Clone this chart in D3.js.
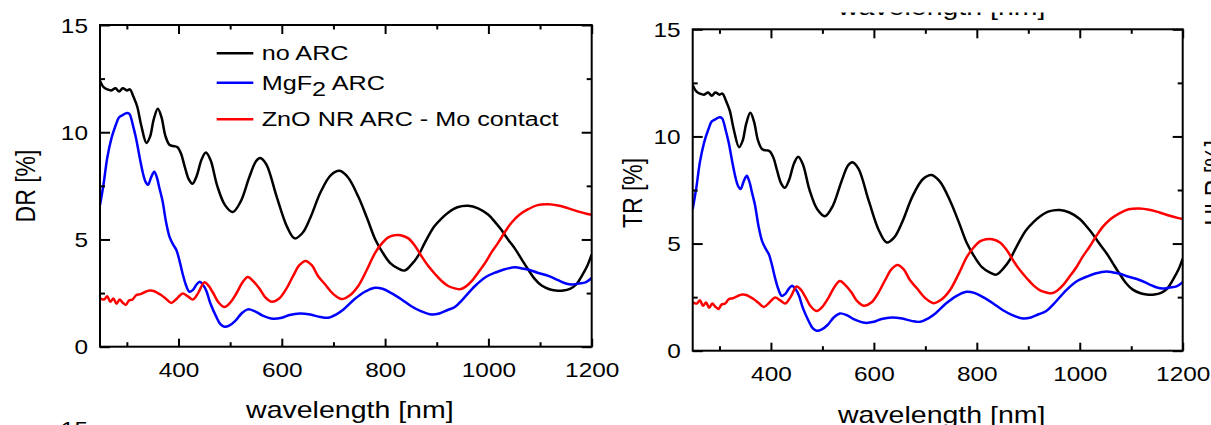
<!DOCTYPE html>
<html>
<head>
<meta charset="utf-8">
<script src="https://cdn.jsdelivr.net/npm/d3@7"></script>
<style>
  body { margin: 0; background: #fff; }
  svg { display: block; }
  text { font-family: "Liberation Sans", Arial, sans-serif; fill: #000; }
</style>
</head>
<body>
<svg id="chart" width="1211" height="425"></svg>
<script>
// Reflectance spectra (wavelength in nm, reflectance in %)
const noArcWl = [248,255,262,270,278,285,292,300,306,312,320,328,338,345,352,360,367,375,383,392,398,405,412,420,427,435,445,453,462,475,490,505,520,537,550,558,570,590,610,625,640,655,675,695,712,728,748,765,781,795,810,825,838,850,863,877,895,910,922,940,961,980,1000,1015,1025,1038,1052,1065,1077,1090,1103,1118,1130,1145,1158,1170,1182,1192,1200];
const noArcR  = [12.4,12.1,12.0,11.95,12.05,11.9,12.05,11.95,12.0,11.7,11.2,10.3,9.5,9.8,10.6,11.1,10.7,9.8,9.4,9.35,9.3,9.0,8.4,7.8,7.6,7.95,8.75,9.05,8.7,7.5,6.6,6.28,6.75,7.9,8.65,8.8,8.5,7.0,5.6,5.05,5.3,6.0,7.2,8.0,8.2,7.9,7.0,6.0,5.0,4.4,3.9,3.65,3.55,3.8,4.2,4.85,5.6,6.0,6.25,6.5,6.57,6.45,6.15,5.75,5.45,5.0,4.55,4.05,3.6,3.15,2.85,2.68,2.62,2.62,2.7,2.9,3.35,3.8,4.3];

const mgf2Wl = [248,255,262,270,278,285,292,300,305,312,318,325,331,336,341,347,353,358,363,369,376,383,390,396,402,408,414,421,428,435,441,447,454,462,473,481,489,498,510,522,534,548,563,583,600,615,635,655,675,690,705,720,740,760,780,795,812,832,850,870,890,905,920,935,950,974,995,1013,1030,1052,1065,1077,1095,1116,1135,1150,1161,1175,1188,1200];
const mgf2R  = [6.6,7.6,8.8,9.7,10.3,10.7,10.8,10.9,10.85,10.3,9.7,8.8,8.1,7.7,7.55,7.9,8.16,7.9,7.4,6.8,5.8,5.1,4.75,4.5,4.0,3.4,2.9,2.56,2.65,2.9,3.03,2.9,2.6,2.0,1.4,1.05,0.93,0.98,1.2,1.55,1.74,1.65,1.45,1.3,1.35,1.48,1.55,1.5,1.38,1.35,1.5,1.75,2.2,2.55,2.75,2.7,2.5,2.2,1.9,1.65,1.5,1.55,1.7,1.85,2.2,2.83,3.25,3.45,3.6,3.7,3.65,3.6,3.45,3.3,3.1,2.95,2.9,2.95,3.0,3.2];

const znoWl = [248,256,262,268,274,280,286,292,298,304,311,318,326,335,344,352,360,367,375,386,397,408,418,428,438,450,458,466,478,489,500,512,524,534,545,557,568,580,595,608,622,634,646,658,670,684,700,716,732,748,765,781,795,806,818,830,845,858,871,884,897,910,922,935,945,956,968,980,994,1006,1019,1032,1045,1060,1077,1095,1116,1135,1155,1175,1190,1200];
const znoR  = [2.25,2.2,2.35,2.1,2.25,2.0,2.2,2.05,1.95,2.15,2.2,2.4,2.45,2.55,2.62,2.6,2.5,2.4,2.25,2.04,2.25,2.48,2.35,2.2,2.5,3.0,2.85,2.55,2.05,1.85,2.05,2.48,3.0,3.25,3.05,2.7,2.3,2.1,2.25,2.67,3.3,3.8,4.0,3.8,3.3,2.9,2.45,2.22,2.4,2.83,3.6,4.39,4.85,5.1,5.2,5.2,5.05,4.7,4.2,3.75,3.38,3.05,2.83,2.72,2.68,2.8,3.07,3.45,3.92,4.4,4.85,5.35,5.79,6.15,6.41,6.6,6.64,6.58,6.45,6.3,6.2,6.15];

const seriesNames  = ["no ARC", "MgF", "ZnO NR ARC - Mo contact"];
const seriesColors = ["#000000", "#0000ff", "#ff0000"];
const xMajorTicks = [400, 600, 800, 1000, 1200];
const xMinorTicks = [300, 500, 700, 900, 1100];
const yMajorTicks = [0, 5, 10, 15];
const yMinorTicks = [2.5, 7.5, 12.5];
const xTitle = "wavelength [nm]";
const panelTitles = ["DR [%]", "TR [%]"];

const series = [
  { wl: noArcWl, r: noArcR, color: seriesColors[0] },
  { wl: mgf2Wl,  r: mgf2R,  color: seriesColors[1] },
  { wl: znoWl,   r: znoR,   color: seriesColors[2] }
];

const svg = d3.select("#chart");
const defs = svg.append("defs");
const TICK_SX = 1.22, TITLE_SX = 1.24, LEGEND_SX = 1.2;

const panels = [
  { left: 100,   right: 591.7,  top: 25,   bottom: 346.7, title: panelTitles[0], titleX: 35,  titleY: 186, xTitleY: 418.3, legend: true },
  { left: 692.7, right: 1182.7, top: 29.3, bottom: 350.7, title: panelTitles[1], titleX: 642, titleY: 193, xTitleY: 422.5, legend: false }
];

function styleAxis(g, width) {
  g.select(".domain").remove();
  g.selectAll(".tick line").attr("stroke", "#000").attr("stroke-width", width);
}

panels.forEach((p, i) => {
  const x = d3.scaleLinear().domain([248, 1200]).range([p.left, p.right]);
  const y = d3.scaleLinear().domain([0, 15]).range([p.bottom, p.top]);
  const g = svg.append("g").attr("class", "panel");

  // clip region for the curves
  const clipId = "clip" + i;
  defs.append("clipPath").attr("id", clipId)
    .append("rect").attr("x", p.left).attr("y", p.top)
    .attr("width", p.right - p.left).attr("height", p.bottom - p.top);

  // curves
  const line = d3.line()
    .x(d => x(d[0])).y(d => y(d[1]))
    .curve(d3.curveCatmullRom.alpha(0.5));
  series.forEach(s => {
    const pts = s.wl.map((w, k) => [w, s.r[k]]);
    g.append("path").datum(pts)
      .attr("clip-path", `url(#${clipId})`)
      .attr("fill", "none").attr("stroke", s.color)
      .attr("stroke-width", 2.5).attr("stroke-linejoin", "round")
      .attr("d", line);
  });

  // bottom axis (major + minor, ticks pointing inward)
  const bx = g.append("g").attr("transform", `translate(0,${p.bottom})`)
    .call(d3.axisBottom(x).tickValues(xMajorTicks).tickSizeInner(-8).tickSizeOuter(0).tickFormat(d3.format("d")));
  styleAxis(bx, 2);
  bx.selectAll(".tick text").attr("y", null).attr("dy", null)
    .attr("font-size", 20).attr("fill", "#000")
    .attr("transform", `translate(0,30.5) scale(${TICK_SX},1)`);
  const bxm = g.append("g").attr("transform", `translate(0,${p.bottom})`)
    .call(d3.axisBottom(x).tickValues(xMinorTicks).tickSizeInner(-4.5).tickSizeOuter(0).tickFormat(""));
  styleAxis(bxm, 2);

  // top axis
  const tx = g.append("g").attr("transform", `translate(0,${p.top})`)
    .call(d3.axisTop(x).tickValues(xMajorTicks).tickSizeInner(-9).tickSizeOuter(0).tickFormat(""));
  styleAxis(tx, 2);
  const txm = g.append("g").attr("transform", `translate(0,${p.top})`)
    .call(d3.axisTop(x).tickValues(xMinorTicks).tickSizeInner(-4.5).tickSizeOuter(0).tickFormat(""));
  styleAxis(txm, 2);

  // left axis
  const ly = g.append("g").attr("transform", `translate(${p.left},0)`)
    .call(d3.axisLeft(y).tickValues(yMajorTicks).tickSizeInner(-10).tickSizeOuter(0).tickFormat(d3.format("d")));
  styleAxis(ly, 2);
  ly.selectAll(".tick text").attr("x", null).attr("dy", null)
    .attr("font-size", 20).attr("fill", "#000")
    .attr("transform", `translate(-12,7) scale(${TICK_SX},1)`);
  const lym = g.append("g").attr("transform", `translate(${p.left},0)`)
    .call(d3.axisLeft(y).tickValues(yMinorTicks).tickSizeInner(-5).tickSizeOuter(0).tickFormat(""));
  styleAxis(lym, 2);

  // right axis
  const ry = g.append("g").attr("transform", `translate(${p.right},0)`)
    .call(d3.axisRight(y).tickValues(yMajorTicks).tickSizeInner(-10).tickSizeOuter(0).tickFormat(""));
  styleAxis(ry, 2);
  const rym = g.append("g").attr("transform", `translate(${p.right},0)`)
    .call(d3.axisRight(y).tickValues(yMinorTicks).tickSizeInner(-5).tickSizeOuter(0).tickFormat(""));
  styleAxis(rym, 2);

  // frame
  g.append("rect").attr("x", p.left).attr("y", p.top)
    .attr("width", p.right - p.left).attr("height", p.bottom - p.top)
    .attr("fill", "none").attr("stroke", "#000").attr("stroke-width", 2);

  // axis titles
  g.append("text").attr("text-anchor", "middle").attr("font-size", 23)
    .attr("transform", `translate(${(p.left + p.right) / 2 + 4},${p.xTitleY}) scale(${TITLE_SX},1)`)
    .text(xTitle);
  g.append("text").attr("text-anchor", "middle").attr("font-size", 23)
    .attr("transform", `translate(${p.titleX},${p.titleY}) scale(${TITLE_SX},1) rotate(-90)`)
    .text(p.title);

  // legend
  if (p.legend) {
    const rowsY = [53.3, 82.7, 119.3];
    const lg = g.append("g").attr("class", "legend");
    series.forEach((s, k) => {
      lg.append("line").attr("x1", 216.7).attr("x2", 253.3)
        .attr("y1", rowsY[k]).attr("y2", rowsY[k])
        .attr("stroke", s.color).attr("stroke-width", 2.5);
      const t = lg.append("text").attr("font-size", 21)
        .attr("transform", `translate(261.7,${rowsY[k] + 7}) scale(${LEGEND_SX},1)`)
        .text(seriesNames[k]);
      if (k === 1) {
        t.append("tspan").attr("dy", 6).text("2");
        t.append("tspan").attr("dy", -6).text(" ARC");
      }
    });
  }
});

// neighbouring panels of the figure grid, partly in view
defs.append("clipPath").attr("id", "clipTopStrip")
  .append("rect").attr("x", 0).attr("y", 12.5).attr("width", 1211).attr("height", 12);
svg.append("g").attr("clip-path", "url(#clipTopStrip)")
  .append("text").attr("text-anchor", "middle").attr("font-size", 23)
  .attr("transform", `translate(941.7,14.5) scale(${TITLE_SX},1)`)
  .text(xTitle);
svg.append("text").attr("text-anchor", "end").attr("font-size", 20)
  .attr("transform", `translate(88,436) scale(${TICK_SX},1)`)
  .text("15");
svg.append("text").attr("text-anchor", "end").attr("font-size", 23)
  .attr("transform", `translate(1224,140) scale(${TITLE_SX},1) rotate(-90)`)
  .text("ULR [%]");
</script>
</body>
</html>
